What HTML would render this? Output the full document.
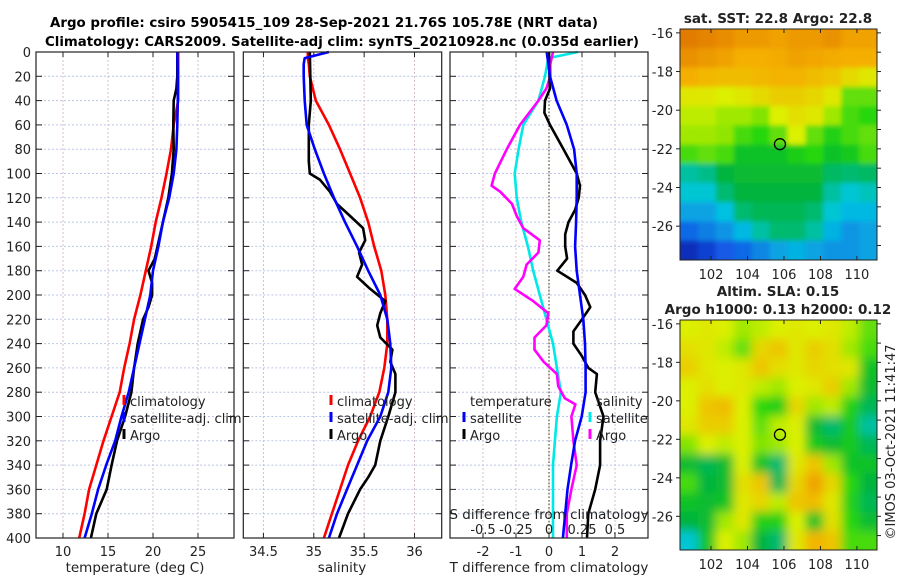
<!DOCTYPE html>
<html><head><meta charset="utf-8"><style>
html,body{margin:0;padding:0;background:#fff;}
svg{display:block;font-family:"DejaVu Sans","Liberation Sans",sans-serif;}
</style></head><body>
<svg id="fig" width="900" height="580" viewBox="0 0 900 580" xmlns="http://www.w3.org/2000/svg">
<defs>
<filter id="blurS" x="0" y="0" width="1" height="1" filterUnits="objectBoundingBox"><feGaussianBlur stdDeviation="5" edgeMode="duplicate"/></filter>
<filter id="blurT" x="0" y="0" width="1" height="1" filterUnits="objectBoundingBox"><feGaussianBlur stdDeviation="2.5" edgeMode="duplicate"/></filter>
<clipPath id="clipA"><rect x="680" y="29" width="197" height="231"/></clipPath>
<clipPath id="clipB"><rect x="680" y="320" width="197" height="230"/></clipPath>
</defs>
<text x="324" y="27" text-anchor="middle" font-size="13.5" font-weight="bold" textLength="548" lengthAdjust="spacingAndGlyphs">Argo profile: csiro 5905415_109 28-Sep-2021 21.76S 105.78E (NRT data)</text>
<text x="342" y="46" text-anchor="middle" font-size="13.5" font-weight="bold" textLength="594" lengthAdjust="spacingAndGlyphs">Climatology: CARS2009. Satellite-adj clim: synTS_20210928.nc (0.035d earlier)</text>
<g id="plots"></g>
</svg>
<script>
// ---------- data ----------
const tDepth = [0,20,40,60,80,100,120,140,160,180,200,220,240,260,280,300,320,340,360,380,400];
const tClim  = [22.8,22.8,22.8,22.3,22.0,21.5,20.95,20.3,19.8,19.2,18.6,17.9,17.4,16.8,16.3,15.4,14.5,13.7,12.9,12.4,11.8];
const tSat   = [22.7,22.75,22.75,22.7,22.6,22.3,21.8,21.1,20.6,20.0,19.7,19.1,18.5,17.9,17.3,16.5,15.8,14.8,13.9,13.2,12.4];
const argoDepth = [0,20,30,40,60,80,100,120,140,160,170,180,190,200,210,220,240,260,280,300,320,340,360,380,400];
const tArgo  = [22.7,22.7,22.6,22.3,22.26,22.3,22.1,21.7,21.1,20.5,20.2,19.5,19.9,19.9,19.5,18.9,18.3,17.9,17.6,16.9,16.0,15.4,14.85,13.7,13.1];

const sDepth = [0,5,10,20,40,60,80,100,120,140,160,180,200,220,240,260,280,300,320,340,360,380,400];
const sClim  = [34.94,34.94,34.95,34.96,35.02,35.15,35.26,35.36,35.46,35.54,35.6,35.67,35.71,35.73,35.73,35.70,35.65,35.56,35.44,35.34,35.26,35.18,35.1];
const sSat   = [35.15,34.91,34.9,34.9,34.91,34.93,35.01,35.1,35.2,35.31,35.43,35.54,35.66,35.73,35.76,35.77,35.74,35.66,35.53,35.43,35.33,35.23,35.15];
const sArgoDepth = [0,40,60,80,90,100,105,115,125,135,145,155,165,175,185,195,205,215,225,235,245,255,265,280,300,320,340,350,360,380,400];
const sArgo  = [34.96,34.97,34.95,34.95,34.95,34.96,35.06,35.16,35.23,35.36,35.49,35.51,35.45,35.48,35.43,35.56,35.71,35.66,35.63,35.66,35.78,35.76,35.81,35.81,35.74,35.66,35.61,35.54,35.46,35.34,35.25];

const dDepth = [0,20,40,60,80,100,120,140,160,180,200,220,240,260,280,300,320,340,360,380,400];
const dTSat  = [-0.07,0.03,0.23,0.54,0.76,0.84,0.84,0.82,0.79,0.84,0.94,1.04,1.09,1.11,1.11,0.99,0.79,0.67,0.56,0.49,0.42];
const dArgoDepth = [0,10,30,40,50,60,80,100,110,120,130,140,150,160,170,180,190,200,210,220,230,240,250,260,265,280,300,320,340,360,380,400];
const dTArgo = [0,0,0.03,-0.12,-0.14,0.03,0.44,0.84,0.94,0.9,0.79,0.59,0.49,0.49,0.55,0.25,0.84,1.09,1.25,1.0,0.74,0.74,0.99,1.19,1.45,1.4,1.65,1.55,1.55,1.4,1.19,1.15];
const dSSatDepth = [0,5,20,40,60,80,100,120,140,160,180,200,220,240,260,280,300,320,340,360,380,400];
const dSSat  = [0.22,-0.005,-0.03,-0.08,-0.195,-0.23,-0.26,-0.245,-0.21,-0.16,-0.12,-0.07,-0.02,0.03,0.06,0.09,0.06,0.045,0.03,0.03,0.03,0.03];
const dSArgoDepth = [0,10,20,30,40,60,80,100,110,115,125,135,145,155,165,175,185,195,205,215,225,235,245,255,265,275,285,290,300,320,340,360,380,400];
const dSArgo = [0.03,0.01,0.01,-0.02,-0.08,-0.22,-0.32,-0.41,-0.435,-0.37,-0.28,-0.245,-0.195,-0.07,-0.08,-0.17,-0.195,-0.26,-0.12,-0.005,-0.02,-0.11,-0.11,-0.04,0.06,0.07,0.12,0.2,0.17,0.185,0.21,0.17,0.135,0.135];

const depthTicks = [0,20,40,60,80,100,120,140,160,180,200,220,240,260,280,300,320,340,360,380,400];
const tTicks = [10,15,20,25];
const sTicks = [34.5,35,35.5,36];
const dTTicks = [-2,-1,0,1,2];
const dSTicks = [-0.5,-0.25,0,0.25,0.5];
const dSTickLabels = ['-0.5','-0.25','0','0.25','0.5'];

const lonTicks = [102,104,106,108,110];
const latTicks = [-16,-18,-20,-22,-24,-26];
const argoLon = 105.78, argoLat = -21.76;
const sstGrid = [
[0.97,0.95,0.93,0.9,0.9,0.88,0.9,0.9,0.92,0.88,0.88],
[0.92,0.9,0.88,0.85,0.85,0.86,0.88,0.87,0.86,0.85,0.85],
[0.85,0.83,0.82,0.82,0.83,0.84,0.84,0.82,0.8,0.75,0.72],
[0.72,0.72,0.7,0.72,0.75,0.78,0.78,0.76,0.72,0.62,0.62],
[0.68,0.68,0.66,0.66,0.64,0.7,0.74,0.72,0.66,0.6,0.58],
[0.66,0.66,0.65,0.6,0.58,0.62,0.7,0.62,0.56,0.6,0.62],
[0.6,0.62,0.6,0.52,0.52,0.52,0.55,0.58,0.52,0.54,0.6],
[0.4,0.42,0.48,0.5,0.5,0.5,0.5,0.5,0.45,0.44,0.45],
[0.36,0.36,0.44,0.48,0.48,0.48,0.48,0.48,0.4,0.36,0.38],
[0.3,0.3,0.34,0.44,0.46,0.46,0.46,0.44,0.36,0.33,0.33],
[0.22,0.25,0.28,0.33,0.4,0.44,0.44,0.4,0.32,0.28,0.3],
[0.1,0.15,0.2,0.22,0.26,0.3,0.32,0.3,0.28,0.28,0.3]];
const slaGrid = [
[.7,.72,.7,.66,.68,.7,.72,.7,.72,.68,.62],
[.74,.72,.68,.62,.76,.8,.72,.78,.74,.66,.6],
[.78,.72,.7,.72,.8,.74,.72,.76,.74,.72,.52],
[.7,.74,.7,.72,.68,.66,.7,.72,.78,.66,.5],
[.7,.8,.82,.7,.58,.55,.76,.66,.68,.56,.46],
[.72,.78,.78,.7,.62,.68,.7,.5,.44,.54,.4],
[.64,.7,.68,.7,.64,.66,.7,.54,.5,.54,.46],
[.5,.46,.5,.7,.52,.44,.72,.8,.66,.52,.52],
[.6,.48,.5,.74,.8,.46,.76,.88,.76,.58,.48],
[.52,.5,.52,.72,.76,.68,.8,.82,.72,.56,.46],
[.48,.5,.66,.72,.56,.56,.7,.52,.74,.58,.5],
[.36,.52,.7,.66,.48,.44,.72,.84,.8,.6,.6]];

// ---------- helpers ----------
const NS='http://www.w3.org/2000/svg';
const root=document.getElementById('plots');
function mk(tag,attrs,parent){const e=document.createElementNS(NS,tag);for(const k in attrs)e.setAttribute(k,attrs[k]);(parent||root).appendChild(e);return e;}
function txt(x,y,s,size,anchor,parent){const t=mk('text',{x:x,y:y,'font-size':size,'text-anchor':anchor||'middle',fill:'#222'},parent);t.textContent=s;return t;}
const Y0=52,Y1=538;
function yD(d){return Y0+d*(Y1-Y0)/400;}
function axis(x0,x1,vmin,vmax){return v=>x0+(v-vmin)/(vmax-vmin)*(x1-x0);}

function panel(name,x0,x1,xs,ticks,showY){
  const g=mk('g',{});
  
  
  ticks.forEach(v=>{const x=xs(v);
    const l=mk('line',{x1:x,x2:x,y1:Y0,y2:Y1,stroke:'#d7bccb','stroke-width':1,'stroke-dasharray':'2,2'},g);
    
    mk('line',{x1:x,x2:x,y1:Y0,y2:Y0+5,stroke:'#222'},g);
    mk('line',{x1:x,x2:x,y1:Y1,y2:Y1-5,stroke:'#222'},g);
  });
  depthTicks.forEach(d=>{const y=yD(d);
    const l=mk('line',{x1:x0,x2:x1,y1:y,y2:y,stroke:'#bcc6ea','stroke-width':1,'stroke-dasharray':'2,2'},g);
    
    mk('line',{x1:x1,x2:x1-6,y1:y,y2:y,stroke:'#222'},g);
    mk('line',{x1:x0,x2:x0+6,y1:y,y2:y,stroke:'#222'},g);
    if(showY){const t=txt(x0-5,y+5,String(d),13,'end',g);}
  });
  return g;
}
function frame(g,x0,x1){const r=mk('rect',{x:x0,y:Y0,width:x1-x0,height:Y1-Y0,fill:'none',stroke:'#222','stroke-width':1.2},g);}
function line(g,xs,vals,depths,color,name){
  const pts=vals.map((v,i)=>xs(v).toFixed(1)+','+yD(depths[i]).toFixed(1)).join(' ');
  const p=mk('polyline',{points:pts,fill:'none',stroke:color,'stroke-width':2.6,'stroke-linejoin':'round'},g);
  
  
}
function legend(g,x,y,color,label,name){
  if(color){const m=mk('line',{x1:x,x2:x,y1:y-11,y2:y-1,stroke:color,'stroke-width':3},g);}
  const t=txt(x+6,y,label,13,'start',g);
  
  
}

// ---------- panel 1: temperature ----------
const xT=axis(36,234,7,29);
const g1=panel('temperature-panel',36,234,xT,tTicks,true);
line(g1,xT,tClim,tDepth,'#ff0000','temp-climatology-line');
line(g1,xT,tArgo,argoDepth,'#000000','temp-argo-line');
line(g1,xT,tSat,tDepth,'#0000ff','temp-satellite-line');
frame(g1,36,234);
tTicks.forEach(v=>{const t=txt(xT(v),556,String(v),13,'middle',g1);});
{const t=txt(135,572,'temperature (deg C)',13.5,'middle',g1);}
legend(g1,124,406,'#ff0000','climatology','legend-climatology');
legend(g1,124,423,'#0000ff','satellite-adj. clim','legend-satellite-adj');
legend(g1,124,440,'#000000','Argo','legend-argo');

// ---------- panel 2: salinity ----------
const xS=axis(243.3,441.7,34.3,36.27);
const g2=panel('salinity-panel',243.3,441.7,xS,sTicks,false);
line(g2,xS,sClim,sDepth,'#ff0000','sal-climatology-line');
line(g2,xS,sArgo,sArgoDepth,'#000000','sal-argo-line');
line(g2,xS,sSat,sDepth,'#0000ff','sal-satellite-line');
frame(g2,243.3,441.7);
sTicks.forEach(v=>{const t=txt(xS(v),556,String(v),13,'middle',g2);});
{const t=txt(342,572,'salinity',13.5,'middle',g2);}
legend(g2,331,406,'#ff0000','climatology','legend-climatology');
legend(g2,331,423,'#0000ff','satellite-adj. clim','legend-satellite-adj');
legend(g2,331,440,'#000000','Argo','legend-argo');

// ---------- panel 3: differences ----------
const xD=axis(450,648,-3,3);
const xDS=axis(450,648,-0.75,0.75);
const g3=panel('difference-panel',450,648,xD,dTTicks,false);
{const z=mk('line',{x1:xD(0),x2:xD(0),y1:Y0,y2:Y1,stroke:'#555533','stroke-width':1.2,'stroke-dasharray':'1.5,2'},g3);}
line(g3,xDS,dSSat,dSSatDepth,'#00e8e8','sal-diff-satellite-line');
line(g3,xDS,dSArgo,dSArgoDepth,'#ff00ff','sal-diff-argo-line');
line(g3,xD,dTArgo,dArgoDepth,'#000000','temp-diff-argo-line');
line(g3,xD,dTSat,dDepth,'#0000ff','temp-diff-satellite-line');
frame(g3,450,648);
dTTicks.forEach(v=>{const t=txt(xD(v),556,String(v),13,'middle',g3);});
dSTicks.forEach((v,i)=>{const t=txt(xDS(v),534,dSTickLabels[i],13,'middle',g3);});
{const t=txt(549,519,'S difference from climatology',13.5,'middle',g3);}
{const t=txt(549,572,'T difference from climatology',13.5,'middle',g3);}
legend(g3,464,406,null,'temperature','legend-temperature-header');
legend(g3,464,423,'#0000ff','satellite','legend-temp-satellite');
legend(g3,464,440,'#000000','Argo','legend-temp-argo');
legend(g3,590,406,null,'salinity','legend-salinity-header');
legend(g3,590,423,'#00e8e8','satellite','legend-sal-satellite');
legend(g3,590,440,'#ff00ff','Argo','legend-sal-argo');

// ---------- maps ----------
const cmapStops=[[0,[0,0,140]],[0.2,[20,90,230]],[0.35,[0,200,225]],[0.48,[0,180,60]],[0.58,[40,215,10]],[0.7,[220,240,0]],[0.85,[245,175,0]],[1,[220,110,0]]];
function cmap(v){for(let i=1;i<cmapStops.length;i++){if(v<=cmapStops[i][0]){const a=cmapStops[i-1],b=cmapStops[i];const f=(v-a[0])/(b[0]-a[0]);return 'rgb('+a[1].map((c,k)=>Math.round(c+f*(b[1][k]-c))).join(',')+')';}}return 'rgb(220,110,0)';}
function drawMap(name,grid,yTop,yBot,clip,filter){
  const g=mk('g',{});
  
  
  const lx=axis(680,877,100.3,111.1);
  const ly=axis(yTop,yBot,-15.8,-27.75);
  const img=mk('g',{'clip-path':'url(#'+clip+')'},g);
  const inner=mk('g',{filter:'url(#'+filter+')'},img);
  const rows=grid.length,cols=grid[0].length;
  for(let r=-1;r<=rows;r++)for(let c=-1;c<=cols;c++){
    const rr=Math.min(rows-1,Math.max(0,r)),cc=Math.min(cols-1,Math.max(0,c));
    const lon0=100.3+c*(10.8/cols),lat0=-15.8-r*(11.95/rows);
    const x=lx(lon0),y=ly(lat0);
    const cell=mk('rect',{x:x,y:y,width:lx(lon0+10.8/cols)-x+0.5,height:ly(lat0-11.95/rows)-y+0.5,fill:cmap(grid[rr][cc])},inner);
    
    
  }
  const fr=mk('rect',{x:680,y:yTop,width:197,height:yBot-yTop,fill:'none',stroke:'#222'},g);
  
  lonTicks.forEach(v=>{const x=lx(v);mk('line',{x1:x,x2:x,y1:yBot,y2:yBot-4,stroke:'#222'},g);mk('line',{x1:x,x2:x,y1:yTop,y2:yTop+4,stroke:'#222'},g);
    const t=txt(x,yBot+19,String(v),13,'middle',g);});
  latTicks.forEach(v=>{const y=ly(v);mk('line',{x1:680,x2:676,y1:y,y2:y,stroke:'#222'},g);mk('line',{x1:877,x2:881,y1:y,y2:y,stroke:'#222'},g);
    const t=txt(673,y+5,String(v),13,'end',g);});
  [-17,-19,-21,-23,-25,-27].forEach(v=>{const y=ly(v);mk('line',{x1:877,x2:881,y1:y,y2:y,stroke:'#222'},g);});
  const c=mk('circle',{cx:lx(argoLon),cy:ly(argoLat),r:5.5,fill:'none',stroke:'#000','stroke-width':1.3},g);
  
  return {g,lx,ly};
}
const mA=drawMap('sst-map',sstGrid,29,260,'clipA','blurT');
{const t=txt(778,23,'sat. SST: 22.8 Argo: 22.8',13.5,'middle',mA.g);t.setAttribute('font-weight','bold');}
const mB=drawMap('sla-map',slaGrid,320,550,'clipB','blurS');
{const t=txt(778,296,'Altim. SLA: 0.15',13.5,'middle',mB.g);t.setAttribute('font-weight','bold');}
{const t=txt(778,314,'Argo h1000: 0.13 h2000: 0.12',13.5,'middle',mB.g);t.setAttribute('font-weight','bold');}
{const t=txt(0,0,'©IMOS 03-Oct-2021 11:41:47',13,'middle');t.setAttribute('transform','translate(895,442) rotate(-90)');}
</script>
</body></html>
